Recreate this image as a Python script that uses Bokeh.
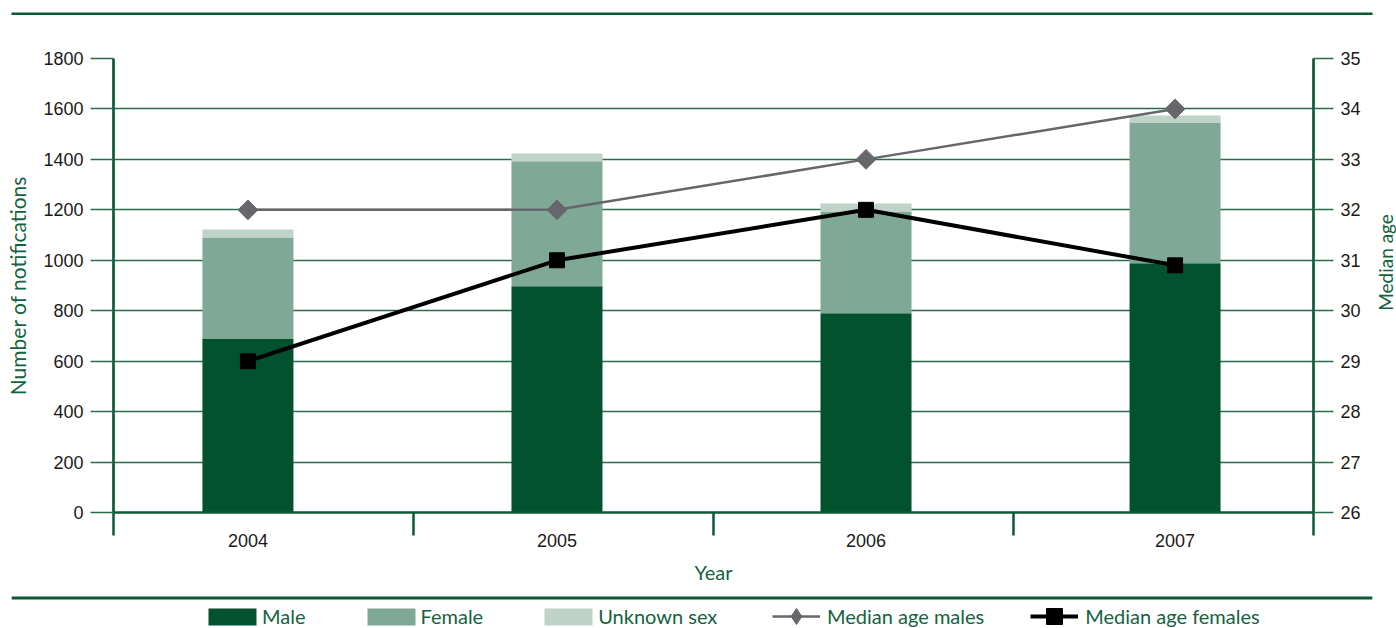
import math
from bokeh.plotting import figure
from bokeh.layouts import column, row
from bokeh.models import (Range1d, LinearAxis, FixedTicker, ColumnDataSource,
                          Legend, LegendItem, Span, Label)
from bokeh.embed import file_html
from bokeh.resources import INLINE

# ---------------- data ----------------
years = [2004, 2005, 2006, 2007]
male = [690, 897, 790, 988]
female = [400, 496, 403, 558]
unknown = [32, 30, 32, 28]
median_age_males = [32, 32, 33, 34]
median_age_females = [29, 31, 32, 30.9]
left_ticks = [0, 200, 400, 600, 800, 1000, 1200, 1400, 1600, 1800]
right_ticks = [26, 27, 28, 29, 30, 31, 32, 33, 34, 35]

# ---------------- styles ----------------
C_MALE = "#02512f"
C_FEMALE = "#7fa896"
C_UNKNOWN = "#bfd3c9"
C_AXIS = "#0b5a36"
C_GRID = "#2a6b4b"
C_TEXT_G = "#13633f"
C_TICK = "#1a1a1a"
C_MALE_AGE = "#67676b"
C_FEMALE_AGE = "#000000"
F_TICK = "Liberation Sans"
F_TITLE = "Lato"

W = 1396
STRIP_W = 28
TOP_H = 15
MAIN_H = 579
BOT_H = 628 - TOP_H - MAIN_H
X0, X1 = 2003.565, 2007.448


def plain_fig(width, height, left, right, top, bottom, xr, yr):
    f = figure(width=width, height=height, output_backend="svg", toolbar_location=None,
               x_axis_type=None, y_axis_type=None, x_range=xr, y_range=yr,
               min_border_left=left, min_border_right=right,
               min_border_top=top, min_border_bottom=bottom)
    f.frame_align = False
    f.outline_line_color = None
    f.grid.visible = False
    f.border_fill_color = "white"
    f.background_fill_color = "white"
    return f


# ---------------- top rule ----------------
ptop = plain_fig(W, TOP_H, 11, 24, 12, 0, Range1d(0, 1), Range1d(0, 1))
ptop.background_fill_color = C_AXIS

# ---------------- main chart ----------------
p = figure(width=W - STRIP_W, height=MAIN_H, output_backend="svg", toolbar_location=None,
           x_range=Range1d(X0, X1), y_range=Range1d(0, 1800),
           min_border_left=113, min_border_right=W - STRIP_W - 1313,
           min_border_top=43, min_border_bottom=82)
p.frame_align = False
p.outline_line_color = None
p.background_fill_color = "white"
p.border_fill_color = "white"
p.extra_y_ranges = {"age": Range1d(26, 35)}

src = ColumnDataSource(dict(year=years, male=male, female=female, unknown=unknown))
BAR_W = 0.2945
bars = p.vbar_stack(["male", "female", "unknown"], x="year", width=BAR_W,
                    fill_color=[C_MALE, C_FEMALE, C_UNKNOWN], line_color=None,
                    source=src)

male_line = dict(line_color=C_MALE_AGE, line_width=2.5)
male_mark = dict(marker="square", angle=math.pi / 4, size=14,
                 fill_color=C_MALE_AGE, line_color=C_MALE_AGE)
fem_line = dict(line_color=C_FEMALE_AGE, line_width=4)
fem_mark = dict(marker="square", size=15, fill_color=C_FEMALE_AGE, line_color=C_FEMALE_AGE)

p.line(years, median_age_males, y_range_name="age", **male_line)
p.scatter(years, median_age_males, y_range_name="age", **male_mark)
p.line(years, median_age_females, y_range_name="age", **fem_line)
p.scatter(years, median_age_females, y_range_name="age", **fem_mark)

p.xgrid.visible = False
p.ygrid.ticker = FixedTicker(ticks=left_ticks)
p.ygrid.grid_line_color = C_GRID
p.ygrid.grid_line_width = 1.4

ya = p.yaxis[0]
ya.ticker = FixedTicker(ticks=left_ticks)
ya.axis_label = "Number of notifications"
ya.axis_line_color = C_AXIS
ya.axis_line_width = 2.7
ya.major_tick_out = 23
ya.major_tick_in = 0
ya.major_tick_line_color = C_GRID
ya.major_tick_line_width = 1.4
ya.minor_tick_line_color = None
ya.major_label_standoff = 7
ya.axis_label_standoff = 10
ya.axis_label_text_font_size = "21px"

ra = LinearAxis(y_range_name="age", ticker=FixedTicker(ticks=right_ticks))
ra.axis_line_color = C_AXIS
ra.axis_line_width = 2.7
ra.major_tick_out = 20
ra.major_tick_in = 0
ra.major_tick_line_color = C_GRID
ra.major_tick_line_width = 1.4
ra.minor_tick_line_color = None
ra.major_label_standoff = 7
p.add_layout(ra, "right")

bounds = [X0 + i * (X1 - X0) / 4 for i in range(5)]
xa = p.xaxis[0]
xa.ticker = FixedTicker(ticks=years, minor_ticks=bounds)
xa.axis_label = "Year"
xa.axis_line_color = C_AXIS
xa.axis_line_width = 2.5
xa.major_tick_out = 0
xa.major_tick_in = 0
xa.major_tick_line_color = None
xa.minor_tick_out = 23
xa.minor_tick_in = 0
xa.minor_tick_line_color = C_AXIS
xa.minor_tick_line_width = 2.5
xa.major_label_standoff = -2
xa.axis_label_standoff = 10
xa.axis_label_text_font_size = "20px"

for ax in (ya, ra, xa):
    ax.major_label_text_font = F_TICK
    ax.major_label_text_font_size = "18px"
    ax.major_label_text_color = C_TICK
    ax.axis_label_text_font = F_TITLE
    ax.axis_label_text_font_style = "normal"
    ax.axis_label_text_color = C_TEXT_G

# ---------------- right axis title strip ----------------
pr = plain_fig(STRIP_W, MAIN_H, 0, 0, 0, 0, Range1d(0, STRIP_W), Range1d(0, MAIN_H))
pr.add_layout(Label(x=17, y=MAIN_H - 247, text="Median age", angle=math.pi / 2,
                    text_align="center", text_baseline="middle",
                    text_font=F_TITLE, text_font_size="19px", text_color=C_TEXT_G))

# ---------------- bottom rule + legend ----------------
pb = plain_fig(W, BOT_H, 11, 24, 0, 0, Range1d(0, W - 35), Range1d(0, BOT_H))
pb.add_layout(Span(location=BOT_H - 3.5, dimension="width",
                   line_color=C_AXIS, line_width=3))

# legend keys only (no drawn data)
key = ColumnDataSource(dict(x=[float("nan")], y=[float("nan")]))
lb_m = pb.vbar(x="x", top="y", width=1, source=key, fill_color=C_MALE, line_color=None)
lb_f = pb.vbar(x="x", top="y", width=1, source=key, fill_color=C_FEMALE, line_color=None)
lb_u = pb.vbar(x="x", top="y", width=1, source=key, fill_color=C_UNKNOWN, line_color=None)
ll_m = pb.line(x="x", y="y", source=key, **male_line)
lm_m = pb.scatter(x="x", y="y", source=key, marker="diamond", size=14,
                  fill_color=C_MALE_AGE, line_color=C_MALE_AGE)
ll_f = pb.line(x="x", y="y", source=key, **fem_line)
lm_f = pb.scatter(x="x", y="y", source=key, **fem_mark)

common = dict(orientation="horizontal", padding=0, margin=0,
              border_line_color=None, background_fill_alpha=0,
              label_text_font=F_TITLE, label_text_font_size="20px",
              label_text_color=C_TEXT_G)
leg1 = Legend(items=[LegendItem(label="Male", renderers=[lb_m]),
                     LegendItem(label="Female", renderers=[lb_f]),
                     LegendItem(label="Unknown sex", renderers=[lb_u])],
              location=(191, 0), glyph_width=60, glyph_height=21,
              label_standoff=0, spacing=55, **common)
leg2 = Legend(items=[LegendItem(label="Median age males", renderers=[ll_m, lm_m]),
                     LegendItem(label="Median age females", renderers=[ll_f, lm_f])],
              location=(761, -8), glyph_width=48, glyph_height=40,
              label_standoff=7, spacing=46, **common)
pb.add_layout(leg1)
pb.add_layout(leg2)

layout = column(ptop, row(p, pr, spacing=0), pb, spacing=0)
open("out.html", "w").write(file_html(layout, INLINE))
